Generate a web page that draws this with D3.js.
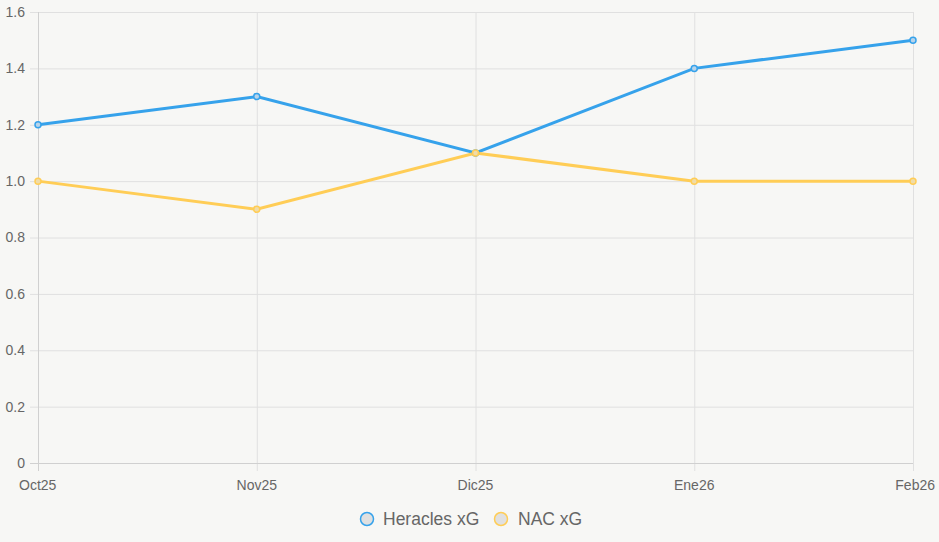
<!DOCTYPE html>
<html><head><meta charset="utf-8">
<script src="https://cdn.jsdelivr.net/npm/d3@7"></script>
<style>body{margin:0;background:#f7f7f5;}svg{display:block;font-family:"Liberation Sans",Arial,sans-serif;}</style>
</head><body><svg id="c" width="939" height="542"></svg>
<script>
const categories = ["Oct25","Nov25","Dic25","Ene26","Feb26"];
const heracles = [1.2,1.3,1.1,1.4,1.5];
const nac = [1.0,0.9,1.1,1.0,1.0];
const yTicks = [0,0.2,0.4,0.6,0.8,1.0,1.2,1.4,1.6];
const seriesNames = ["Heracles xG","NAC xG"];
const colors = ["#36a2eb","#ffcd56"];

const svg = d3.select("#c");
const L=38,R=913,T=12,B=463;
const x = d3.scalePoint().domain(categories).range([L,R]);
const y = d3.scaleLinear().domain([0,1.6]).range([B,T]);
const grid="#e0e0e0";
svg.append("g").selectAll("line").data(yTicks).join("line")
 .attr("x1",L-8).attr("x2",R).attr("y1",d=>y(d)+0.5).attr("y2",d=>y(d)+0.5)
 .attr("stroke",grid).attr("stroke-width",1);
svg.append("g").selectAll("line").data(categories).join("line")
 .attr("x1",d=>x(d)+0.5).attr("x2",d=>x(d)+0.5).attr("y1",T).attr("y2",B+8)
 .attr("stroke",grid).attr("stroke-width",1);
svg.append("line").attr("x1",L+0.5).attr("x2",L+0.5).attr("y1",T).attr("y2",B+8).attr("stroke","#d0d0d0");
svg.append("line").attr("x1",L-8).attr("x2",R).attr("y1",B+0.5).attr("y2",B+0.5).attr("stroke","#d0d0d0");
svg.append("g").selectAll("text").data(yTicks).join("text")
 .attr("x",L-13).attr("y",d=>y(d)).attr("dy","0.35em").attr("text-anchor","end")
 .attr("fill","#666").attr("font-size",14).text(d=>d===0?"0":d.toFixed(1));
svg.append("g").selectAll("text").data(categories).join("text")
 .attr("x",(d,i)=>x(d)).attr("y",B+27)
 .attr("text-anchor",(d,i)=>i===0?"start":(i===categories.length-1?"end":"middle"))
 .attr("dx",(d,i)=>i===0?-19:(i===categories.length-1?22:0))
 .attr("fill","#666").attr("font-size",14).text(d=>d);
const line = d3.line().x((d,i)=>x(categories[i])).y(d=>y(d));
[heracles,nac].forEach((s,k)=>{
  svg.append("path").datum(s).attr("d",line).attr("fill","none").attr("stroke",colors[k]).attr("stroke-width",3);
});
[heracles,nac].forEach((s,k)=>{
  svg.append("g").selectAll("circle").data(s).join("circle")
   .attr("cx",(d,i)=>x(categories[i])).attr("cy",d=>y(d)).attr("r",3)
   .attr("fill",k===0?"#b8d4ea":"#f0dca8").attr("stroke",colors[k]).attr("stroke-width",1.5);
});
const leg=[{cx:367,tx:383},{cx:501,tx:518}];
seriesNames.forEach((n,k)=>{
  svg.append("circle").attr("cx",leg[k].cx).attr("cy",519).attr("r",6.5)
   .attr("fill","#e0e0e0").attr("stroke",colors[k]).attr("stroke-width",1.5);
  svg.append("text").attr("x",leg[k].tx).attr("y",519).attr("dy","0.35em")
   .attr("fill","#666").attr("font-size",17.5).text(n);
});
</script></body></html>
